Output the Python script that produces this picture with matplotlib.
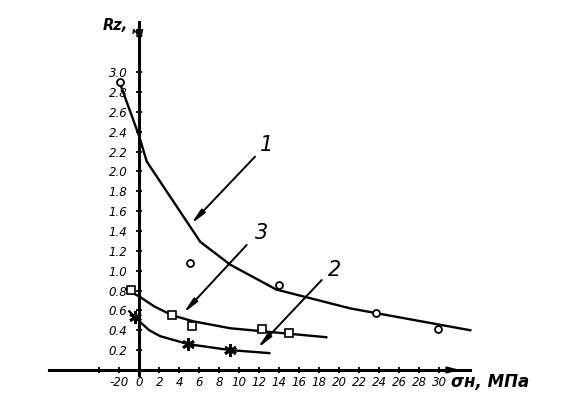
import matplotlib
matplotlib.use("Agg")
import matplotlib.pyplot as plt
from matplotlib import font_manager

# ---- data ----
c1_line_x = [-1.8, 0.0, 0.74, 6.1, 9.1, 13.7, 21.1, 33.1]
c1_line_y = [2.85, 2.35, 2.10, 1.29, 1.06, 0.81, 0.62, 0.40]
c1_pts_x = [-1.9, 5.1, 14.0, 23.7, 29.9]
c1_pts_y = [2.90, 1.08, 0.86, 0.57, 0.41]

c3_line_x = [-1.3, 0.0, 1.5, 3.3, 5.4, 9.1, 18.7]
c3_line_y = [0.81, 0.74, 0.64, 0.55, 0.49, 0.42, 0.33]
c3_pts_x = [-0.86, 3.3, 5.3, 12.3, 15.0]
c3_pts_y = [0.81, 0.55, 0.44, 0.41, 0.37]

c2_line_x = [-1.0, 0.0, 1.0, 2.1, 4.9, 9.1, 13.0]
c2_line_y = [0.59, 0.49, 0.40, 0.34, 0.26, 0.20, 0.17]
c2_pts_x = [-0.4, 4.9, 9.1]
c2_pts_y = [0.53, 0.26, 0.20]

x_ticks = [-4, -2] + list(range(0, 32, 2))
x_tick_labels = ["", "-20"] + [str(v) for v in range(0, 32, 2)]
y_ticks = [round(0.2 * i, 1) for i in range(1, 16)]
y_tick_labels = [f"{v:.1f}" for v in y_ticks]

curve_labels = ["1", "2", "3"]
x_title = "σн, МПа"
y_title = "Rz,"
y_unit = "мм"

# ---- font ----
names = {f.name for f in font_manager.fontManager.ttflist}
narrow = "Liberation Sans Narrow" if "Liberation Sans Narrow" in names else "DejaVu Sans"

fig = plt.figure(figsize=(5.84, 4.09), dpi=100)
ax = fig.add_axes([0, 0, 1, 1])
# pixel mapping: x_px = 139.3 + 10*x ; y_px = 370 - 99.3*y
ax.set_xlim(-13.93, 44.47)
ax.set_ylim(-0.393, 3.726)

for s in ["top", "right"]:
    ax.spines[s].set_visible(False)
ax.spines["left"].set_position(("data", 0))
ax.spines["bottom"].set_position(("data", 0))
ax.spines["left"].set_bounds(-0.05, 3.50)
ax.spines["bottom"].set_bounds(-9.0, 33.1)
for s in ["left", "bottom"]:
    ax.spines[s].set_linewidth(2.2)
    ax.spines[s].set_color("black")

ax.set_xticks(x_ticks)
ax.set_xticklabels(x_tick_labels)
ax.set_yticks(y_ticks)
ax.set_yticklabels(y_tick_labels)
ax.tick_params(axis="both", direction="inout", length=5, width=1.3, color="black")
ax.tick_params(axis="x", pad=2)
ax.tick_params(axis="y", pad=6)
for lab in ax.get_xticklabels() + ax.get_yticklabels():
    lab.set_fontfamily([narrow, "DejaVu Sans"])
    lab.set_fontstyle("italic")
    lab.set_fontsize(8.5)

# axis arrows
ax.annotate("", xy=(0, 3.51), xytext=(0, 3.25),
            arrowprops=dict(arrowstyle="-|>,head_length=0.7,head_width=0.15",
                            color="black", lw=1.5, shrinkA=0, shrinkB=0))
ax.annotate("", xy=(32.1, 0), xytext=(30.5, 0),
            arrowprops=dict(arrowstyle="-|>,head_length=0.7,head_width=0.18",
                            color="black", lw=1.5, shrinkA=0, shrinkB=0))

# curves
lw = 1.7
ax.plot(c1_line_x, c1_line_y, color="black", lw=lw, solid_joinstyle="round")
ax.plot(c1_pts_x, c1_pts_y, ls="none", marker="o", ms=5, mfc="white", mec="black", mew=1.3)

ax.plot(c3_line_x, c3_line_y, color="black", lw=lw)
ax.plot(c3_pts_x, c3_pts_y, ls="none", marker="s", ms=6, mfc="white", mec="black", mew=1.2)

ax.plot(c2_line_x, c2_line_y, color="black", lw=lw)
ax.plot(c2_pts_x, c2_pts_y, ls="none", marker=(6, 2, 0), ms=9, mec="black", mew=2.0)

# leader arrows with curve numbers
ap = dict(arrowstyle="-|>,head_length=0.9,head_width=0.15", color="black", lw=1.4,
          shrinkA=0, shrinkB=0)
ax.annotate("", xy=(5.14, 1.467), xytext=(11.57, 2.148), arrowprops=ap)
ax.annotate("", xy=(4.4, 0.571), xytext=(10.74, 1.259), arrowprops=ap)
ax.annotate("", xy=(11.8, 0.218), xytext=(18.24, 0.906), arrowprops=ap)

lab_kw = dict(fontsize=15, fontstyle="italic", ha="center", va="center",
              family=[narrow, "DejaVu Sans"])
ax.text(12.74, 2.27, curve_labels[0], **lab_kw)
ax.text(19.57, 1.01, curve_labels[1], **lab_kw)
ax.text(12.24, 1.38, curve_labels[2], **lab_kw)

# axis titles
ax.text(-3.65, 3.47, y_title, fontsize=10.5, fontweight="bold", fontstyle="italic",
        ha="left", va="center", family=[narrow, "DejaVu Sans"])
ax.text(-0.75, 3.41, y_unit, fontsize=5.5, fontweight="bold", fontstyle="italic",
        ha="left", va="center", family=[narrow, "DejaVu Sans"])
ax.text(31.2, -0.12, x_title, fontsize=12, fontweight="bold", fontstyle="italic",
        ha="left", va="center", family=[narrow, "DejaVu Sans"])

fig.savefig("out.png", dpi=100)
